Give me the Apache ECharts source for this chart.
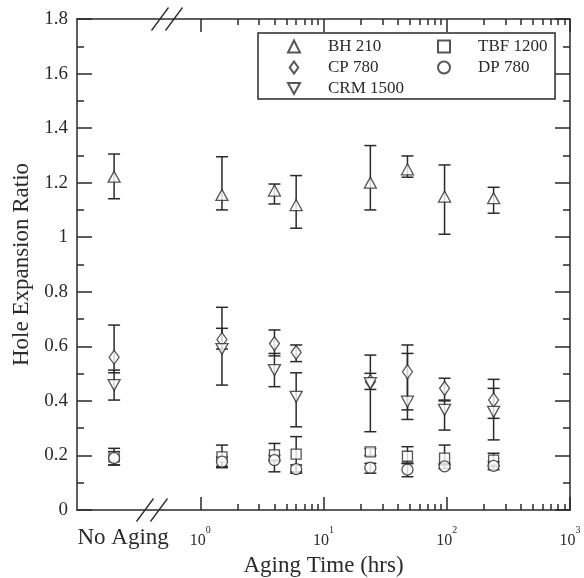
<!DOCTYPE html>
<html>
<head>
<meta charset="utf-8">
<script src="https://cdn.jsdelivr.net/npm/echarts@6/dist/echarts.min.js"></script>
<style>
html,body{margin:0;padding:0;background:#fff;}
#chart{width:584px;height:578px;}
</style>
</head>
<body>
<div id="chart"></div>
<script>
// aging time (hrs); the "No Aging" samples sit at 0.2 h, left of the axis break
const agingHours = [0.2, 1.5, 4, 6, 24, 48, 96, 240]

const bh210   = [1.222, 1.155, 1.171, 1.118, 1.20, 1.249, 1.149, 1.143]
const bh210Lo = [1.141, 1.100, 1.122, 1.033, 1.10, 1.220, 1.011, 1.088]
const bh210Hi = [1.305, 1.295, 1.195, 1.226, 1.336, 1.298, 1.265, 1.183]

const cp780   = [0.560, 0.625, 0.610, 0.578, 0.470, 0.507, 0.446, 0.403]
const cp780Lo = [0.503, 0.590, 0.565, 0.544, 0.442, 0.367, 0.403, 0.336]
const cp780Hi = [0.678, 0.666, 0.660, 0.605, 0.501, 0.605, 0.483, 0.479]

const crm1500   = [0.458, 0.590, 0.513, 0.415, 0.465, 0.397, 0.367, 0.360]
const crm1500Lo = [0.403, 0.458, 0.452, 0.305, 0.287, 0.332, 0.293, 0.257]
const crm1500Hi = [0.513, 0.743, 0.574, 0.503, 0.568, 0.574, 0.400, 0.446]

const tbf1200   = [0.195, 0.195, 0.202, 0.205, 0.213, 0.197, 0.190, 0.183]
const tbf1200Lo = [0.165, 0.160, 0.180, 0.140, 0.200, 0.170, 0.165, 0.160]
const tbf1200Hi = [0.226, 0.238, 0.244, 0.269, 0.226, 0.232, 0.238, 0.208]

const dp780   = [0.190, 0.177, 0.183, 0.150, 0.155, 0.148, 0.160, 0.162]
const dp780Lo = [0.165, 0.155, 0.140, 0.135, 0.135, 0.122, 0.152, 0.148]
const dp780Hi = [0.214, 0.195, 0.200, 0.165, 0.171, 0.172, 0.170, 0.178]

// axis ticks
const majorHours = [1, 10, 100, 1000]
const minorHours = [2,3,4,5,6,7,8,9, 20,30,40,50,60,70,80,90, 200,300,400,500,600,700,800,900]
const xLabelValues = [0.237, 1, 10, 100, 1000]
const noAgingLabel = 'No Aging'

const ink = '#2a2a2a'
const serif = 'Liberation Serif, Times New Roman, serif'

let chart = echarts.init(document.getElementById('chart'))

const points = (vals) => agingHours.map((h, i) => [h, vals[i]])
const bars = (lo, hi) => agingHours.map((h, i) => [h, lo[i], hi[i]])

const renderBar = (params, api) => {
  const hi = api.coord([api.value(0), api.value(2)])
  const lo = api.coord([api.value(0), api.value(1)])
  const w = 6
  const style = { stroke: ink, lineWidth: 1.5, fill: null }
  return {
    type: 'group',
    children: [
      { type: 'line', shape: { x1: hi[0], y1: hi[1], x2: lo[0], y2: lo[1] }, style },
      { type: 'line', shape: { x1: hi[0] - w, y1: hi[1], x2: hi[0] + w, y2: hi[1] }, style },
      { type: 'line', shape: { x1: lo[0] - w, y1: lo[1], x2: lo[0] + w, y2: lo[1] }, style }
    ]
  }
}

const barSeries = (lo, hi) => ({
  type: 'custom',
  xAxisIndex: 0, yAxisIndex: 0,
  renderItem: renderBar,
  encode: { x: 0, y: [1, 2] },
  data: bars(lo, hi),
  z: 1,
  silent: true
})

const markerStyle = { color: '#fff', borderColor: ink, borderWidth: 1.3 }

const scatter = (name, vals, symbol, size, rotate) => ({
  name,
  type: 'scatter',
  xAxisIndex: 0, yAxisIndex: 0,
  symbol, symbolSize: size, symbolRotate: rotate || 0,
  itemStyle: markerStyle,
  emphasis: { disabled: true },
  data: points(vals),
  z: 2
})

const axisLine = { show: true, lineStyle: { color: ink, width: 1.5 } }
const tickStyle = { color: ink, width: 1.5 }

const logAxis = (position, ticks, len, showLine) => ({
  type: 'log',
  logBase: 10,
  position,
  min: 0.1,
  max: 1000,
  axisLine: showLine ? axisLine : { show: false },
  axisTick: { show: true, inside: true, length: len, customValues: ticks, lineStyle: tickStyle },
  splitLine: { show: false },
  minorTick: { show: false },
  axisLabel: { show: false }
})

const xBottom = logAxis('bottom', majorHours, 13, true)
xBottom.name = 'Aging Time (hrs)'
xBottom.nameLocation = 'middle'
xBottom.nameGap = 44
xBottom.nameTextStyle = { fontFamily: serif, fontSize: 23, color: ink }
xBottom.axisLabel = {
  show: true,
  customValues: xLabelValues,
  showMinLabel: true,
  showMaxLabel: true,
  margin: 15,
  color: ink,
  fontFamily: serif,
  formatter: (v) => {
    if (v < 0.5) return '{n|' + noAgingLabel + '}'
    return '{b|10}{s|' + Math.round(Math.log10(v)) + '}'
  },
  rich: {
    n: { fontFamily: serif, fontSize: 23, lineHeight: 26, color: ink },
    b: { fontFamily: serif, fontSize: 16, lineHeight: 24, verticalAlign: 'bottom', color: ink },
    s: { fontFamily: serif, fontSize: 10, lineHeight: 10, verticalAlign: 'top', color: ink }
  }
}

const valAxis = (position, showLabel) => ({
  type: 'value',
  position,
  min: 0,
  max: 1.8,
  interval: 0.2,
  axisLine,
  axisTick: { show: true, inside: true, length: 15, lineStyle: tickStyle },
  minorTick: { show: true, splitNumber: 2, length: 7, lineStyle: tickStyle },
  splitLine: { show: false },
  axisLabel: { show: showLabel, margin: 9, fontFamily: serif, fontSize: 19, color: ink }
})

const yLeft = valAxis('left', true)
yLeft.name = 'Hole Expansion Ratio'
yLeft.nameLocation = 'middle'
yLeft.nameGap = 41
yLeft.nameTextStyle = { fontFamily: serif, fontSize: 23, color: ink }

// "//" break marks on the bottom and top axis lines
const breakMark = (cx, cy) => ({
  type: 'group',
  z: 100,
  children: [
    { type: 'rect', shape: { x: cx - 7, y: cy - 3, width: 14, height: 6 }, style: { fill: '#fff' } },
    { type: 'line', shape: { x1: cx - 15.5, y1: cy + 11.5, x2: cx + 1.5, y2: cy - 11.5 }, style: { stroke: ink, lineWidth: 1.3 } },
    { type: 'line', shape: { x1: cx - 1.5, y1: cy + 11.5, x2: cx + 15.5, y2: cy - 11.5 }, style: { stroke: ink, lineWidth: 1.3 } }
  ]
})

const legendText = { fontFamily: serif, fontSize: 17, lineHeight: 17, color: ink, padding: [0, 0, 0, 23] }
const diamondIcon = 'path://M5,0 L10,7 L5,14 L0,7 Z'
const downTriangleIcon = 'path://M0,0 L12,0 L6,11 Z'

let option = {
  animation: false,
  backgroundColor: '#fff',
  grid: { left: 77, top: 19, right: 14, bottom: 68, containLabel: false, outerBoundsMode: 'none' },
  legend: [
    {
      data: ['BH 210', { name: 'CP 780', icon: diamondIcon }, { name: 'CRM 1500', icon: downTriangleIcon }],
      orient: 'vertical',
      left: 258, top: 33,
      padding: [5, 151, 2, 29],
      itemWidth: 12, itemHeight: 12, itemGap: 4,
      textStyle: legendText,
      borderColor: ink, borderWidth: 1.5,
      backgroundColor: '#fff',
      selectedMode: false,
      z: 10
    },
    {
      data: ['TBF 1200', 'DP 780'],
      orient: 'vertical',
      left: 437, top: 33,
      padding: [5, 0, 0, 0],
      itemWidth: 12, itemHeight: 12, itemGap: 4,
      textStyle: legendText,
      selectedMode: false,
      z: 11
    }
  ],
  xAxis: [
    xBottom,
    logAxis('bottom', minorHours, 6, false),
    logAxis('top', majorHours, 13, true),
    logAxis('top', minorHours, 6, false)
  ],
  yAxis: [yLeft, valAxis('right', false)],
  graphic: [breakMark(152, 510), breakMark(167, 19)],
  series: [
    barSeries(bh210Lo, bh210Hi),
    barSeries(cp780Lo, cp780Hi),
    barSeries(crm1500Lo, crm1500Hi),
    barSeries(tbf1200Lo, tbf1200Hi),
    barSeries(dp780Lo, dp780Hi),
    scatter('BH 210', bh210, 'triangle', [12, 11]),
    scatter('CP 780', cp780, 'diamond', [10, 14]),
    scatter('CRM 1500', crm1500, 'triangle', [12, 11], 180),
    scatter('TBF 1200', tbf1200, 'rect', [10, 10]),
    scatter('DP 780', dp780, 'circle', 11)
  ]
}

chart.setOption(option)
</script>
</body>
</html>
